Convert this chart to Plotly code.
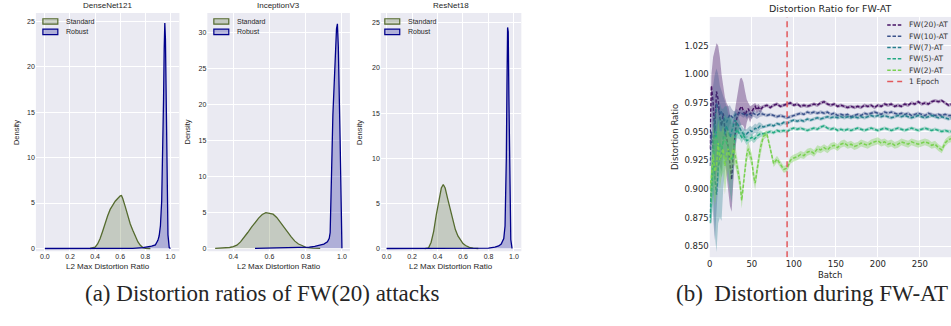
import plotly.graph_objects as go

# ------------------------------------------------------------------
# Panel (a): KDE curves of the L2 max distortion ratio
# ------------------------------------------------------------------
dense_std_x = [0.36, 0.40, 0.42, 0.44, 0.46, 0.48, 0.50, 0.52, 0.54, 0.56, 0.58, 0.60, 0.61,
               0.62, 0.64, 0.66, 0.68, 0.70, 0.72, 0.74, 0.76, 0.78, 0.80, 0.84]
dense_std_y = [0.0, 0.15, 0.5, 1.1, 1.9, 2.8, 3.6, 4.3, 4.8, 5.2, 5.5, 5.8, 5.82,
               5.5, 4.6, 3.6, 2.7, 2.0, 1.3, 0.75, 0.35, 0.1, 0.03, 0.0]
dense_rob_x = [0.0, 0.2, 0.4, 0.6, 0.7, 0.78, 0.82, 0.85, 0.88, 0.90, 0.91, 0.92, 0.93, 0.94,
               0.945, 0.95, 0.955, 0.96, 0.965, 0.97, 0.975, 0.98, 0.99, 1.0]
dense_rob_y = [0.0, 0.0, 0.0, 0.0, 0.02, 0.1, 0.18, 0.25, 0.4, 0.9, 1.4, 2.5, 5.2, 11.0,
               16.5, 22.0, 24.8, 23.0, 17.0, 10.0, 4.5, 1.5, 0.1, 0.0]

incep_std_x = [0.30, 0.34, 0.38, 0.40, 0.42, 0.44, 0.46, 0.48, 0.50, 0.52, 0.54, 0.56, 0.58,
               0.60, 0.62, 0.64, 0.66, 0.68, 0.70, 0.72, 0.74, 0.76, 0.78, 0.80, 0.84, 0.88]
incep_std_y = [0.0, 0.03, 0.12, 0.25, 0.45, 0.9, 1.5, 2.2, 2.9, 3.6, 4.2, 4.7, 4.95,
               4.85, 4.75, 4.3, 3.6, 3.0, 2.3, 1.6, 1.0, 0.6, 0.4, 0.15, 0.02, 0.0]
incep_rob_x = [0.52, 0.60, 0.70, 0.78, 0.82, 0.85, 0.88, 0.90, 0.92, 0.93, 0.935, 0.94, 0.945,
               0.95, 0.96, 0.97, 0.975, 0.98, 0.99, 0.995, 1.0]
incep_rob_y = [0.0, 0.02, 0.05, 0.1, 0.18, 0.28, 0.42, 0.6, 0.9, 1.4, 2.2, 6.0, 13.0,
               18.5, 26.0, 30.5, 31.2, 28.0, 15.0, 7.0, 0.0]

resnet_std_x = [0.30, 0.33, 0.35, 0.37, 0.39, 0.41, 0.43, 0.445, 0.46, 0.48, 0.50, 0.52, 0.54,
                0.56, 0.58, 0.60, 0.62, 0.65, 0.68, 0.72]
resnet_std_y = [0.0, 0.08, 0.7, 1.9, 3.7, 5.4, 6.7, 7.1, 6.7, 5.5, 4.3, 3.1, 2.1,
                1.4, 0.9, 0.55, 0.33, 0.12, 0.04, 0.0]
resnet_rob_x = [0.0, 0.2, 0.4, 0.6, 0.7, 0.8, 0.85, 0.88, 0.90, 0.92, 0.93, 0.935, 0.94, 0.945,
                0.95, 0.955, 0.96, 0.965, 0.97, 0.975, 0.985]
resnet_rob_y = [0.0, 0.0, 0.0, 0.0, 0.01, 0.05, 0.15, 0.28, 0.5, 1.1, 2.5, 5.0, 10.0, 18.0,
                24.5, 24.0, 17.0, 9.0, 3.5, 1.0, 0.0]

model_titles = ["DenseNet121", "InceptionV3", "ResNet18"]
kde_labels = ["Standard", "Robust"]
ratio_ticks_full = [0.0, 0.2, 0.4, 0.6, 0.8, 1.0]
ratio_ticks_incep = [0.4, 0.6, 0.8, 1.0]
density_ticks_25 = [0, 5, 10, 15, 20, 25]
density_ticks_30 = [0, 5, 10, 15, 20, 25, 30]

# ------------------------------------------------------------------
# Panel (b): distortion ratio during FW adversarial training
# ------------------------------------------------------------------
series_names = ["FW(20)-AT", "FW(10)-AT", "FW(7)-AT", "FW(5)-AT", "FW(2)-AT"]
epoch_label = "1 Epoch"
epoch_batch = 92
batch_early = list(range(0, 62, 2))     # 31 batches
batch_late = list(range(64, 292, 4))    # 57 batches

fw20_early = [0.935, 0.990, 0.975, 0.950, 0.985, 0.978, 0.962, 0.955, 0.966, 0.952, 0.945,
              0.936, 0.922, 0.908, 0.932, 0.950, 0.961, 0.966, 0.970, 0.972, 0.967, 0.964,
              0.968, 0.970, 0.965, 0.968, 0.970, 0.972, 0.969, 0.971, 0.969]
fw20_late = [0.972, 0.973, 0.971, 0.973, 0.974, 0.972, 0.973, 0.974, 0.975, 0.973,
             0.974, 0.972, 0.973, 0.972, 0.973, 0.974, 0.973, 0.975, 0.976, 0.974,
             0.973, 0.974, 0.972, 0.973, 0.972, 0.971, 0.972, 0.971, 0.972, 0.971,
             0.973, 0.972, 0.973, 0.971, 0.973, 0.972, 0.974, 0.973, 0.974, 0.972,
             0.973, 0.972, 0.974, 0.973, 0.975, 0.974, 0.976, 0.974, 0.975, 0.974,
             0.976, 0.977, 0.976, 0.977, 0.975, 0.973, 0.974]
fw20_hi_early = [0.935, 1.000, 1.015, 1.022, 1.027, 1.025, 1.015, 1.000, 0.990, 0.980, 0.975,
                 0.972, 0.965, 0.955, 0.960, 0.970, 0.980, 0.990, 0.996, 0.997, 0.993, 0.985,
                 0.978, 0.975, 0.972, 0.973, 0.974, 0.975, 0.973, 0.974, 0.972]
fw20_lo_early = [0.935, 0.975, 0.935, 0.905, 0.915, 0.925, 0.920, 0.915, 0.930, 0.925, 0.915,
                 0.900, 0.885, 0.880, 0.905, 0.930, 0.945, 0.950, 0.955, 0.956, 0.955, 0.950,
                 0.958, 0.962, 0.958, 0.962, 0.966, 0.969, 0.966, 0.968, 0.966]

fw10_early = [0.920, 0.950, 0.932, 0.960, 0.975, 0.970, 0.965, 0.968, 0.962, 0.960, 0.958,
              0.962, 0.965, 0.963, 0.962, 0.964, 0.966, 0.965, 0.967, 0.966, 0.965, 0.966,
              0.964, 0.966, 0.965, 0.964, 0.966, 0.965, 0.964, 0.965, 0.966]
fw10_late = [0.965, 0.964, 0.965, 0.964, 0.963, 0.964, 0.963, 0.962, 0.963, 0.964,
             0.965, 0.966, 0.965, 0.967, 0.966, 0.967, 0.966, 0.967, 0.966, 0.967,
             0.965, 0.966, 0.964, 0.965, 0.964, 0.965, 0.963, 0.964, 0.965, 0.964,
             0.966, 0.965, 0.966, 0.967, 0.966, 0.965, 0.967, 0.966, 0.967, 0.966,
             0.965, 0.966, 0.965, 0.966, 0.964, 0.965, 0.966, 0.965, 0.964, 0.966,
             0.965, 0.964, 0.965, 0.964, 0.965, 0.964, 0.964]
fw10_hi_early = [0.920, 0.975, 0.990, 1.000, 1.005, 1.000, 0.990, 0.985, 0.980, 0.975, 0.972,
                 0.972, 0.973, 0.970, 0.968, 0.968, 0.970, 0.968, 0.970, 0.969, 0.968, 0.969,
                 0.967, 0.969, 0.968, 0.967, 0.969, 0.968, 0.967, 0.968, 0.969]
fw10_lo_early = [0.920, 0.925, 0.875, 0.855, 0.870, 0.905, 0.930, 0.945, 0.945, 0.945, 0.944,
                 0.952, 0.957, 0.956, 0.956, 0.960, 0.962, 0.962, 0.964, 0.963, 0.962, 0.963,
                 0.961, 0.963, 0.962, 0.961, 0.963, 0.962, 0.961, 0.962, 0.963]

fw7_early = [0.875, 0.900, 0.930, 0.910, 0.895, 0.920, 0.925, 0.930, 0.945, 0.950, 0.955,
             0.950, 0.945, 0.950, 0.955, 0.960, 0.958, 0.955, 0.952, 0.950, 0.948, 0.947,
             0.948, 0.950, 0.951, 0.950, 0.952, 0.953, 0.952, 0.954, 0.955]
fw7_late = [0.954, 0.955, 0.956, 0.955, 0.957, 0.956, 0.958, 0.957, 0.959, 0.960,
            0.959, 0.960, 0.959, 0.961, 0.960, 0.961, 0.962, 0.961, 0.962, 0.963,
            0.962, 0.963, 0.962, 0.963, 0.962, 0.963, 0.962, 0.963, 0.962, 0.963,
            0.962, 0.963, 0.964, 0.963, 0.964, 0.963, 0.964, 0.963, 0.962, 0.963,
            0.964, 0.963, 0.964, 0.963, 0.962, 0.963, 0.964, 0.963, 0.962, 0.963,
            0.964, 0.963, 0.962, 0.963, 0.962, 0.961, 0.962]
fw7_hi_early = [0.875, 0.930, 0.965, 0.960, 0.955, 0.965, 0.975, 0.970, 0.970, 0.972, 0.972,
                0.965, 0.960, 0.962, 0.965, 0.968, 0.966, 0.962, 0.958, 0.955, 0.953, 0.952,
                0.952, 0.954, 0.955, 0.954, 0.956, 0.957, 0.956, 0.958, 0.958]
fw7_lo_early = [0.875, 0.870, 0.895, 0.860, 0.845, 0.870, 0.875, 0.872, 0.900, 0.915, 0.925,
                0.925, 0.925, 0.935, 0.940, 0.948, 0.950, 0.948, 0.946, 0.945, 0.943, 0.942,
                0.944, 0.946, 0.947, 0.946, 0.948, 0.949, 0.948, 0.950, 0.952]

fw5_early = [0.870, 0.900, 0.920, 0.940, 0.950, 0.930, 0.940, 0.935, 0.940, 0.945, 0.940,
             0.935, 0.930, 0.925, 0.930, 0.945, 0.952, 0.950, 0.948, 0.945, 0.947, 0.944,
             0.942, 0.943, 0.944, 0.945, 0.943, 0.944, 0.946, 0.947, 0.948]
fw5_late = [0.948, 0.949, 0.950, 0.949, 0.951, 0.950, 0.951, 0.950, 0.952, 0.953,
            0.952, 0.953, 0.952, 0.951, 0.952, 0.953, 0.952, 0.954, 0.955, 0.953,
            0.952, 0.953, 0.951, 0.952, 0.951, 0.952, 0.951, 0.952, 0.953, 0.952,
            0.951, 0.952, 0.953, 0.952, 0.951, 0.952, 0.953, 0.952, 0.951, 0.952,
            0.953, 0.952, 0.951, 0.952, 0.953, 0.952, 0.951, 0.952, 0.953, 0.952,
            0.951, 0.952, 0.951, 0.950, 0.951, 0.950, 0.950]
fw5_hi_early = [0.870, 0.930, 0.950, 0.965, 0.975, 0.960, 0.965, 0.960, 0.960, 0.965, 0.962,
                0.962, 0.963, 0.962, 0.955, 0.958, 0.960, 0.956, 0.953, 0.950, 0.951, 0.948,
                0.946, 0.946, 0.947, 0.948, 0.946, 0.947, 0.949, 0.950, 0.951]
fw5_lo_early = [0.870, 0.870, 0.890, 0.910, 0.925, 0.900, 0.915, 0.910, 0.920, 0.925, 0.918,
                0.908, 0.897, 0.888, 0.905, 0.932, 0.944, 0.944, 0.943, 0.940, 0.943, 0.940,
                0.938, 0.940, 0.941, 0.942, 0.940, 0.941, 0.943, 0.944, 0.945]

fw2_early = [0.900, 0.910, 0.930, 0.915, 0.920, 0.940, 0.925, 0.930, 0.935, 0.920, 0.930,
             0.935, 0.925, 0.930, 0.935, 0.930, 0.922, 0.915, 0.905, 0.890, 0.905, 0.920,
             0.930, 0.935, 0.930, 0.925, 0.912, 0.905, 0.915, 0.925, 0.935]
fw2_late = [0.946, 0.948, 0.935, 0.922, 0.926, 0.921, 0.917, 0.918, 0.925, 0.927,
            0.928, 0.930, 0.929, 0.932, 0.933, 0.931, 0.935, 0.934, 0.936, 0.934,
            0.937, 0.938, 0.936, 0.939, 0.940, 0.938, 0.939, 0.937, 0.938, 0.940,
            0.939, 0.938, 0.940, 0.941, 0.942, 0.940, 0.941, 0.939, 0.940, 0.938,
            0.939, 0.941, 0.940, 0.939, 0.941, 0.940, 0.939, 0.940, 0.941, 0.940,
            0.938, 0.939, 0.936, 0.934, 0.940, 0.943, 0.944]
fw2_hi_early = [0.900, 0.935, 0.955, 0.945, 0.945, 0.960, 0.950, 0.950, 0.955, 0.945, 0.950,
                0.952, 0.945, 0.945, 0.948, 0.940, 0.930, 0.922, 0.912, 0.897, 0.912, 0.927,
                0.937, 0.941, 0.936, 0.931, 0.918, 0.911, 0.921, 0.931, 0.941]
fw2_lo_early = [0.900, 0.885, 0.905, 0.885, 0.895, 0.920, 0.900, 0.910, 0.915, 0.895, 0.910,
                0.918, 0.905, 0.915, 0.922, 0.920, 0.914, 0.908, 0.898, 0.883, 0.898, 0.913,
                0.923, 0.929, 0.924, 0.919, 0.906, 0.899, 0.909, 0.919, 0.929]

late_band_halfwidth = [0.0015, 0.0015, 0.0015, 0.0015, 0.003]
batch_ticks = [0, 50, 100, 150, 200, 250]
ratio_ticks_b = [0.850, 0.875, 0.900, 0.925, 0.950, 0.975, 1.000, 1.025]

# ------------------------------------------------------------------
# Styling / layout constants
# ------------------------------------------------------------------
W, H = 951, 326
BG = "#EAEAF2"
TXT = "#262626"
SANS_A = "Liberation Sans, Arial, sans-serif"
SANS_B = "DejaVu Sans, sans-serif"
SERIF = "Liberation Serif, Times New Roman, serif"
STD_LINE, STD_FILL = "#556B2F", "rgba(85,107,47,0.25)"
ROB_LINE, ROB_FILL = "#00008B", "rgba(0,0,139,0.25)"
SERIES_COLORS = ["#471365", "#3b528b", "#277f8e", "#23a983", "#7ad151"]
SERIES_FILLS = ["rgba(71,19,101,0.38)", "rgba(59,82,139,0.33)", "rgba(39,127,142,0.33)",
                "rgba(35,169,131,0.33)", "rgba(122,209,81,0.38)"]
EPOCH_COLOR = "#E2585B"
SERIES_DASH = "3.5px,1.8px"
EPOCH_DASH = "6px,4px"


def px(xp):
    return xp / W


def py(yp):
    return 1 - yp / H


def fmt(v, d):
    return f"{v:.{d}f}"


fig = go.Figure()

# ---- panel (a) traces ----
kde_sets = [
    (dense_std_x, dense_std_y, dense_rob_x, dense_rob_y),
    (incep_std_x, incep_std_y, incep_rob_x, incep_rob_y),
    (resnet_std_x, resnet_std_y, resnet_rob_x, resnet_rob_y),
]
for i, (sx, sy, rx, ry) in enumerate(kde_sets):
    suffix = "" if i == 0 else str(i + 1)
    fig.add_trace(go.Scatter(x=sx, y=sy, mode="lines", fill="tozeroy", fillcolor=STD_FILL,
                             line=dict(color=STD_LINE, width=1.3), name=kde_labels[0],
                             showlegend=False, xaxis="x" + suffix, yaxis="y" + suffix,
                             hoverinfo="skip"))
    fig.add_trace(go.Scatter(x=rx, y=ry, mode="lines", fill="tozeroy", fillcolor=ROB_FILL,
                             line=dict(color=ROB_LINE, width=1.3), name=kde_labels[1],
                             showlegend=False, xaxis="x" + suffix, yaxis="y" + suffix,
                             hoverinfo="skip"))

# ---- panel (b) traces ----
batches = batch_early + batch_late
series = [
    (fw20_early, fw20_late, fw20_hi_early, fw20_lo_early),
    (fw10_early, fw10_late, fw10_hi_early, fw10_lo_early),
    (fw7_early, fw7_late, fw7_hi_early, fw7_lo_early),
    (fw5_early, fw5_late, fw5_hi_early, fw5_lo_early),
    (fw2_early, fw2_late, fw2_hi_early, fw2_lo_early),
]
for k, (e, l, hi, lo) in enumerate(series):
    assert len(e) == len(batch_early) == len(hi) == len(lo), k
    assert len(l) == len(batch_late), (k, len(l))
    hw = late_band_halfwidth[k]
    upper = hi + [v + hw for v in l]
    lower = lo + [v - hw for v in l]
    fig.add_trace(go.Scatter(x=batches + batches[::-1], y=upper + lower[::-1], mode="lines",
                             fill="toself", fillcolor=SERIES_FILLS[k], line=dict(width=0),
                             showlegend=False, xaxis="x4", yaxis="y4", hoverinfo="skip"))
    fig.add_trace(go.Scatter(x=batches, y=e + l, mode="lines", name=series_names[k],
                             line=dict(color=SERIES_COLORS[k], width=1.5, dash=SERIES_DASH),
                             showlegend=False, xaxis="x4", yaxis="y4"))

YB_RANGE = [0.8404, 1.050]
fig.add_trace(go.Scatter(x=[epoch_batch, epoch_batch], y=YB_RANGE, mode="lines", name=epoch_label,
                         line=dict(color=EPOCH_COLOR, width=1.5, dash=EPOCH_DASH),
                         showlegend=False, xaxis="x4", yaxis="y4"))

# ---- axes ----
def axis(domain, rng, ticks, labels, font, size, anchor):
    return dict(domain=domain, range=rng, tickvals=ticks, ticktext=labels, showgrid=True,
                gridcolor="white", gridwidth=1, zeroline=False, showline=False, ticks="",
                tickfont=dict(family=font, size=size, color=TXT), anchor=anchor,
                fixedrange=True)

a_panels = [
    dict(xd=(33, 177), yd=(13, 252), xr=[-0.0714, 1.0714], yr=[-0.3, 25.9],
         xt=ratio_ticks_full, yt=density_ticks_25),
    dict(xd=(205, 348), yd=(13, 252), xr=[0.257, 1.044], yr=[-0.4, 32.7],
         xt=ratio_ticks_incep, yt=density_ticks_30),
    dict(xd=(379, 520), yd=(13, 252), xr=[-0.045, 1.058], yr=[-0.3, 26.1],
         xt=ratio_ticks_full, yt=density_ticks_25),
]
layout_axes = {}
for i, p in enumerate(a_panels):
    s = "" if i == 0 else str(i + 1)
    layout_axes["xaxis" + s] = axis([px(p["xd"][0]), px(p["xd"][1])], p["xr"], p["xt"],
                                    [fmt(v, 1) for v in p["xt"]], SANS_A, 7, "y" + s)
    layout_axes["yaxis" + s] = axis([py(p["yd"][1]), py(p["yd"][0])], p["yr"], p["yt"],
                                    [str(v) for v in p["yt"]], SANS_A, 7, "x" + s)
layout_axes["xaxis4"] = axis([px(709), 1.0], [0, 287], batch_ticks, [str(v) for v in batch_ticks],
                             SANS_B, 8.5, "y4")
layout_axes["yaxis4"] = axis([py(258), py(17)], YB_RANGE, ratio_ticks_b,
                             [fmt(v, 3) for v in ratio_ticks_b], SANS_B, 8.5, "x4")

annotations = []
shapes = []


def text(x, y, t, font, size, angle=0, xanchor="center", color=TXT):
    annotations.append(dict(x=px(x), y=py(y), xref="paper", yref="paper", text=t,
                            showarrow=False, xanchor=xanchor, yanchor="middle",
                            textangle=angle, font=dict(family=font, size=size, color=color)))


# panel (a) titles / axis labels / legends
centers = [105, 276.5, 449.5]
ylab_x = [13, 185, 357]
patch_x = [40, 211.5, 383]
for i in range(3):
    text(centers[i], 6, model_titles[i], SANS_A, 8)
    text(centers[i], 267, "L2 Max Distortion Ratio", SANS_A, 8)
    text(ylab_x[i], 132.5, "Density", SANS_A, 7.5, angle=-90)
    for j, (lc, fc) in enumerate([(STD_LINE, STD_FILL), (ROB_LINE, ROB_FILL)]):
        yc = 21.5 + 10.5 * j
        shapes.append(dict(type="rect", xref="paper", yref="paper",
                           x0=px(patch_x[i]), x1=px(patch_x[i] + 15),
                           y0=py(yc + 2.7), y1=py(yc - 2.7), fillcolor=fc,
                           line=dict(color=lc, width=1.2)))
        text(patch_x[i] + 21, yc, kde_labels[j], SANS_A, 7, xanchor="left")

# panel (b) title / labels / legend
text(830, 9, "Distortion Ratio for FW-AT", SANS_B, 9.5)
text(830, 276, "Batch", SANS_B, 8.5)
text(674, 137.5, "Distortion Ratio", SANS_B, 8.5, angle=-90)
leg_names = series_names + [epoch_label]
leg_colors = SERIES_COLORS + [EPOCH_COLOR]
for j in range(6):
    yc = 25 + 11.35 * j
    shapes.append(dict(type="line", xref="paper", yref="paper", x0=px(887), x1=px(902),
                       y0=py(yc), y1=py(yc),
                       line=dict(color=leg_colors[j], width=1.5,
                                 dash=SERIES_DASH if j < 5 else EPOCH_DASH)))
    text(907, yc, leg_names[j], SANS_B, 7.5, xanchor="left", color="#333333")

# captions
text(260, 294, "(a) Distortion ratios of FW(20) attacks", SERIF, 23)
text(950, 294, "(b)\u00a0 Distortion during FW-AT", SERIF, 23, xanchor="right")

fig.update_layout(width=W, height=H, margin=dict(l=0, r=0, t=0, b=0),
                  paper_bgcolor="white", plot_bgcolor=BG, showlegend=False,
                  annotations=annotations, shapes=shapes, **layout_axes)

fig.write_html("out.html", config={"displayModeBar": False},
               post_script="document.body.style.margin='0';document.body.style.overflow='hidden';")
